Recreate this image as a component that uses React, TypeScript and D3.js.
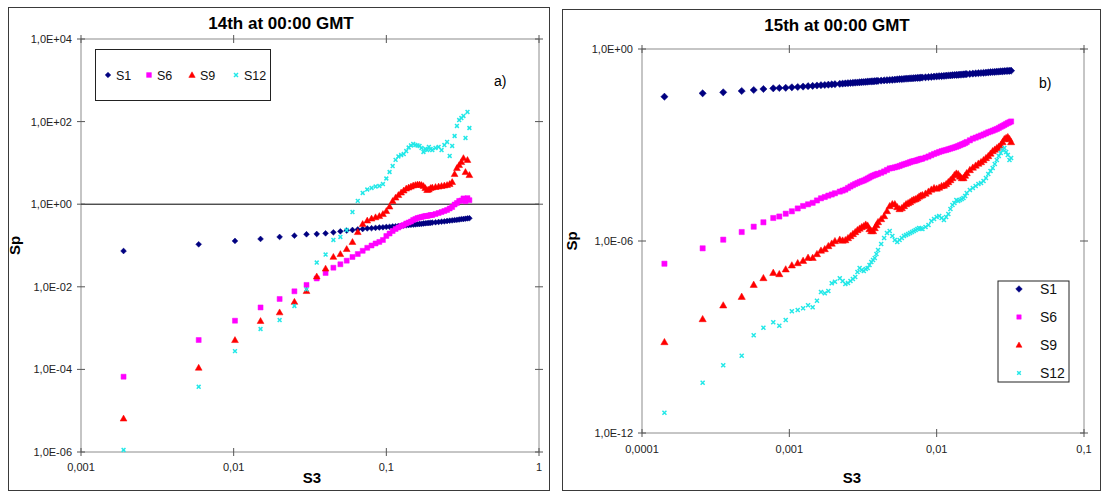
import React from "react";
import * as d3 from "d3";

// ---------- Panel a) : 14th at 00:00 GMT ----------
const leftS3 = [
  0.0019, 0.0059, 0.0102, 0.015, 0.02, 0.025, 0.03,
  0.035, 0.04, 0.045, 0.05, 0.055, 0.06, 0.065, 0.07, 0.075, 0.08,
  0.085, 0.09, 0.095, 0.1, 0.105, 0.11, 0.115, 0.12, 0.125, 0.13,
  0.135, 0.14, 0.145, 0.15, 0.155, 0.16, 0.165, 0.17, 0.175, 0.18,
  0.185, 0.19, 0.195, 0.2,
  0.21, 0.22, 0.23, 0.24, 0.25, 0.26, 0.27, 0.28, 0.29, 0.3, 0.31, 0.32, 0.33, 0.34, 0.35,
];
const leftS1 = [
  0.0736, 0.107, 0.129, 0.144, 0.161, 0.173, 0.187,
  0.19, 0.197, 0.208, 0.22, 0.23, 0.237, 0.245, 0.251, 0.259, 0.262,
  0.267, 0.273, 0.276, 0.281, 0.284, 0.289, 0.292, 0.297, 0.3, 0.303,
  0.308, 0.314, 0.317, 0.321, 0.324, 0.328, 0.332, 0.335, 0.341, 0.345,
  0.349, 0.351, 0.355, 0.359,
  0.365, 0.371, 0.377, 0.383, 0.392, 0.399, 0.405, 0.412, 0.419, 0.426, 0.433, 0.438, 0.445, 0.453, 0.458,
];
const leftS6 = [
  6.65e-5, 5.15e-4, 1.51e-3, 3.16e-3, 5.07e-3, 7.78e-3, 0.0111,
  0.0159, 0.0216, 0.029, 0.0351, 0.0429, 0.0527, 0.0622, 0.0744, 0.088, 0.1,
  0.112, 0.122, 0.136, 0.17, 0.195, 0.224, 0.251, 0.273, 0.297, 0.314,
  0.341, 0.36, 0.381, 0.415, 0.438, 0.463, 0.476, 0.49, 0.504, 0.518,
  0.518, 0.532, 0.547, 0.547,
  0.579, 0.612, 0.647, 0.685, 0.724, 0.787, 0.855, 0.983, 1.07, 1.2, 1.23, 1.38, 1.18, 1.4, 1.25,
];
const leftS9 = [
  6.47e-6, 1.1e-4, 5.15e-4, 1.49e-3, 2.41e-3, 4.34e-3, 7.91e-3,
  0.0178, 0.0277, 0.0532, 0.0622, 0.0823, 0.122, 0.212, 0.332, 0.403, 0.45,
  0.484, 0.518, 0.579, 0.685, 0.88, 1.2, 1.45, 1.67, 1.92, 2.15,
  2.4, 2.54, 2.68, 2.84, 2.92, 3.0, 3.0, 2.92, 2.76, 2.47,
  2.21, 2.27, 2.47, 2.54,
  2.61, 2.68, 2.76, 2.84, 2.92, 3.08, 3.45, 5.39, 7.52, 8.9, 10.5, 13.1, 6.02, 11.8, 5.09,
];
const leftS12 = [
  1.12e-6, 3.79e-5, 2.76e-4, 9.51e-4, 1.57e-3, 3.43e-3, 8.69e-3,
  0.0387, 0.0605, 0.136, 0.161, 0.237, 0.647, 1.2, 1.87, 2.27, 2.47,
  2.68, 2.76, 3.08, 4.19, 6.02, 8.41, 11.8, 14.3, 15.5, 16.4,
  19.4, 23.6, 26.4, 28.7, 27.1, 26.4, 25.7, 23.0, 18.4, 21.7,
  20.5, 24.3, 21.7, 20.5,
  23.0, 24.3, 20.5, 27.1, 32.1, 14.7, 25.7, 44.8, 78.3, 109, 122, 137, 40.1, 171, 70.0,
];
const leftXTicks = [0.001, 0.01, 0.1, 1];
const leftXLabels = ["0,001", "0,01", "0,1", "1"];
const leftYTicks = [1e4, 1e2, 1, 1e-2, 1e-4, 1e-6];
const leftYLabels = ["1,0E+04", "1,0E+02", "1,0E+00", "1,0E-02", "1,0E-04", "1,0E-06"];

// ---------- Panel b) : 15th at 00:00 GMT ----------
const rightS3 = [
  0.000142, 0.000258, 0.000356, 0.000475, 0.000573, 0.000667, 0.000778, 0.000855, 0.000945, 0.00104,
  0.00114, 0.00124, 0.00134, 0.00144, 0.00154, 0.00164, 0.00174, 0.00184, 0.00194, 0.00204,
  0.0022, 0.0023, 0.0024, 0.0025, 0.0026, 0.0027, 0.0028, 0.0029, 0.003, 0.0031,
  0.0032, 0.0033, 0.0034, 0.0035, 0.0036, 0.0037, 0.0038, 0.0039, 0.004, 0.0042,
  0.0044, 0.0046, 0.0048, 0.005, 0.0052, 0.0054, 0.0056, 0.0058, 0.006, 0.0062,
  0.0064, 0.0066, 0.0068, 0.007, 0.0072, 0.0074, 0.0076, 0.0078, 0.008, 0.0084,
  0.0088, 0.0092, 0.0096, 0.01, 0.0104, 0.0108, 0.0112, 0.0116, 0.012, 0.0124,
  0.0128, 0.0132, 0.0136, 0.014, 0.0144, 0.0148, 0.0152, 0.0156, 0.016, 0.0168,
  0.0176, 0.0184, 0.0192, 0.02, 0.0208, 0.0216, 0.0224, 0.0232, 0.024, 0.0248,
  0.0256, 0.0264, 0.0272, 0.028, 0.0288, 0.0296, 0.0304, 0.0312, 0.032,
];
const rightS1 = [
  0.0323, 0.0413, 0.0443, 0.0487, 0.0523, 0.0562, 0.0591, 0.0604, 0.0613, 0.0636,
  0.0649, 0.0668, 0.0688, 0.0703, 0.0723, 0.0739, 0.075, 0.0766, 0.0783, 0.0794,
  0.0818, 0.0829, 0.0841, 0.0854, 0.0866, 0.0879, 0.0891, 0.0898, 0.091, 0.0924,
  0.0931, 0.0944, 0.0951, 0.0965, 0.0972, 0.0979, 0.0993, 0.1, 0.1007, 0.1029,
  0.1044, 0.1059, 0.1075, 0.109, 0.1106, 0.1122, 0.1139, 0.1147, 0.1164, 0.118,
  0.1189, 0.1206, 0.1214, 0.1223, 0.1241, 0.125, 0.1259, 0.1277, 0.1286, 0.1305,
  0.1324, 0.1343, 0.1372, 0.1393, 0.1413, 0.1423, 0.1444, 0.1465, 0.1486, 0.1496,
  0.1518, 0.154, 0.1552, 0.1563, 0.1585, 0.1596, 0.1607, 0.1631, 0.1643, 0.1667,
  0.1703, 0.1728, 0.1754, 0.1778, 0.1805, 0.183, 0.1857, 0.1884, 0.1911, 0.1923,
  0.1953, 0.1966, 0.1995, 0.2009, 0.204, 0.2054, 0.207, 0.2083, 0.21,
];
const rightS6 = [
  1.95e-7, 5.9e-7, 1.1e-6, 1.91e-6, 2.8e-6, 3.84e-6, 5.24e-6, 5.83e-6, 7.13e-6, 8.48e-6,
  1.04e-5, 1.24e-5, 1.4e-5, 1.56e-5, 1.85e-5, 2.16e-5, 2.37e-5, 2.62e-5, 2.84e-5, 3.1e-5,
  3.5e-5, 3.76e-5, 4.04e-5, 4.53e-5, 5.05e-5, 5.54e-5, 6.04e-5, 6.49e-5, 6.98e-5, 7.39e-5,
  7.78e-5, 8.35e-5, 8.98e-5, 9.64e-5, 1.04e-4, 1.1e-4, 1.155e-4, 1.21e-4, 1.26e-4, 1.36e-4,
  1.49e-4, 1.66e-4, 1.85e-4, 1.91e-4, 2.0e-4, 2.1e-4, 2.21e-4, 2.36e-4, 2.49e-4, 2.61e-4,
  2.74e-4, 2.9e-4, 3.05e-4, 3.14e-4, 3.23e-4, 3.38e-4, 3.52e-4, 3.65e-4, 3.76e-4, 4.04e-4,
  4.37e-4, 4.8e-4, 5.24e-4, 5.62e-4, 6.04e-4, 6.4e-4, 6.73e-4, 6.98e-4, 7.34e-4, 7.72e-4,
  8.06e-4, 8.41e-4, 8.85e-4, 9.3e-4, 9.86e-4, 1.04e-3, 1.09e-3, 1.155e-3, 1.24e-3, 1.4e-3,
  1.58e-3, 1.7e-3, 1.84e-3, 1.98e-3, 2.13e-3, 2.3e-3, 2.49e-3, 2.64e-3, 2.8e-3, 2.99e-3,
  3.16e-3, 3.4e-3, 3.7e-3, 3.93e-3, 4.22e-3, 4.53e-3, 4.87e-3, 5.12e-3, 5.43e-3,
];
const rightS9 = [
  6.98e-10, 3.65e-9, 9.79e-9, 1.82e-8, 4.31e-8, 6.98e-8, 1.02e-7, 9.3e-8, 1.31e-7, 1.74e-7,
  2.05e-7, 2.42e-7, 3.01e-7, 3.0e-7, 3.93e-7, 5.05e-7, 5.62e-7, 6.98e-7, 8.35e-7, 1.0e-6,
  1.11e-6, 1.04e-6, 1.07e-6, 1.24e-6, 1.43e-6, 1.66e-6, 1.91e-6, 2.21e-6, 2.46e-6, 2.74e-6,
  2.94e-6, 3.28e-6, 3.05e-6, 2.37e-6, 2.05e-6, 2.05e-6, 2.55e-6, 3.16e-6, 3.93e-6, 4.87e-6,
  6.04e-6, 8.66e-6, 1.24e-5, 1.43e-5, 1.43e-5, 1.155e-5, 1.0e-5, 1.07e-5, 1.24e-5, 1.43e-5,
  1.54e-5, 1.66e-5, 1.85e-5, 1.98e-5, 2.05e-5, 2.21e-5, 2.46e-5, 2.64e-5, 2.74e-5, 3.05e-5,
  3.52e-5, 4.07e-5, 4.53e-5, 4.37e-5, 4.7e-5, 5.24e-5, 5.43e-5, 6.04e-5, 6.98e-5, 8.06e-5,
  9.3e-5, 1.155e-4, 1.29e-4, 1.24e-4, 1.04e-4, 9.3e-5, 9.3e-5, 1.11e-4, 1.33e-4, 1.66e-4,
  1.98e-4, 2.29e-4, 2.64e-4, 2.94e-4, 3.4e-4, 3.93e-4, 4.53e-4, 5.43e-4, 6.49e-4, 7.23e-4,
  8.06e-4, 8.98e-4, 1.0e-3, 1.24e-3, 1.54e-3, 1.66e-3, 1.78e-3, 1.54e-3, 1.24e-3,
];
const rightS12 = [
  4.31e-12, 3.73e-11, 1.31e-10, 2.61e-10, 1.13e-9, 1.95e-9, 2.88e-9, 2.25e-9, 3.4e-9, 6.36e-9,
  6.98e-9, 7.89e-9, 9.79e-9, 8.48e-9, 1.36e-8, 2.55e-8, 2.32e-8, 2.74e-8, 4.77e-8, 5.35e-8,
  6.83e-8, 5.62e-8, 4.53e-8, 4.87e-8, 5.62e-8, 6.49e-8, 7.5e-8, 1.07e-7, 1.43e-7, 1.24e-7,
  1.155e-7, 1.33e-7, 1.43e-7, 1.78e-7, 2.21e-7, 2.55e-7, 2.94e-7, 3.93e-7, 5.24e-7, 8.06e-7,
  1.24e-6, 1.78e-6, 2.05e-6, 1.43e-6, 1.07e-6, 9.3e-7, 1.07e-6, 1.24e-6, 1.43e-6, 1.54e-6,
  1.66e-6, 1.78e-6, 1.91e-6, 2.05e-6, 2.21e-6, 2.37e-6, 2.55e-6, 2.46e-6, 2.37e-6, 2.74e-6,
  3.16e-6, 4.22e-6, 4.87e-6, 5.62e-6, 6.04e-6, 5.24e-6, 4.53e-6, 5.62e-6, 6.98e-6, 1.0e-5,
  1.33e-5, 1.54e-5, 1.91e-5, 1.78e-5, 1.91e-5, 2.05e-5, 2.21e-5, 2.55e-5, 3.16e-5, 3.93e-5,
  4.53e-5, 5.24e-5, 6.04e-5, 6.49e-5, 7.5e-5, 9.3e-5, 1.24e-4, 1.54e-4, 1.91e-4, 2.55e-4,
  3.4e-4, 4.53e-4, 5.62e-4, 6.98e-4, 8.06e-4, 6.04e-4, 4.87e-4, 3.4e-4, 3.93e-4,
];
const rightXTicks = [0.0001, 0.001, 0.01, 0.1];
const rightXLabels = ["0,0001", "0,001", "0,01", "0,1"];
const rightYTicks = [1, 1e-6, 1e-12];
const rightYLabels = ["1,0E+00", "1,0E-06", "1,0E-12"];

const seriesNames = ["S1", "S6", "S9", "S12"];

// ---------- drawing helpers ----------
type Shape = "diamond" | "square" | "triangle" | "x";
const shapes: Shape[] = ["diamond", "square", "triangle", "x"];
const colors = ["#000080", "#FF00FF", "#FF0000", "#22E8E8"];
const FONT = "'Liberation Sans', Arial, Helvetica, sans-serif";

function markerPath(shape: Shape, r: number): string {
  const p = d3.path();
  if (shape === "diamond") {
    p.moveTo(0, -r); p.lineTo(r, 0); p.lineTo(0, r); p.lineTo(-r, 0); p.closePath();
  } else if (shape === "square") {
    p.rect(-r, -r, 2 * r, 2 * r);
  } else if (shape === "triangle") {
    p.moveTo(0, -r); p.lineTo(r, r * 0.75); p.lineTo(-r, r * 0.75); p.closePath();
  } else {
    p.moveTo(-r, -r); p.lineTo(r, r); p.moveTo(r, -r); p.lineTo(-r, r);
  }
  return p.toString();
}

function Marker({ shape, color, r, x, y }: { shape: Shape; color: string; r: number; x: number; y: number }) {
  const d = markerPath(shape, r);
  if (shape === "x") {
    return <path d={d} transform={`translate(${x},${y})`} fill="none" stroke={color} strokeWidth={1.5} />;
  }
  return <path d={d} transform={`translate(${x},${y})`} fill={color} stroke={color} strokeWidth={0.5} />;
}

type PanelProps = {
  frame: { x: number; y: number; w: number; h: number };
  plot: { x0: number; x1: number; y0: number; y1: number };
  title: string;
  titleX: number;
  titleY: number;
  tag: string;
  tagX: number;
  tagY: number;
  xs: number[];
  ys: number[][];
  xDomain: [number, number];
  yDomain: [number, number];
  xTicks: number[];
  xLabels: string[];
  yTicks: number[];
  yLabels: string[];
  xLabelY: number;
  xTitleX: number;
  yTitleX: number;
  radii: number[];
  refLineAt?: number;
  legend: React.ReactNode;
};

function Panel(p: PanelProps) {
  const x = d3.scaleLog().domain(p.xDomain).range([p.plot.x0, p.plot.x1]);
  const y = d3.scaleLog().domain(p.yDomain).range([p.plot.y1, p.plot.y0]);
  const midY = (p.plot.y0 + p.plot.y1) / 2;
  return (
    <g>
      <rect x={p.frame.x} y={p.frame.y} width={p.frame.w} height={p.frame.h} fill="#fff" stroke="#3a3a3a" strokeWidth={1} />
      <text x={p.titleX} y={p.titleY} textAnchor="middle" fontFamily={FONT} fontWeight="bold" fontSize={17}>
        {p.title}
      </text>
      <rect
        x={p.plot.x0}
        y={p.plot.y0}
        width={p.plot.x1 - p.plot.x0}
        height={p.plot.y1 - p.plot.y0}
        fill="#fff"
        stroke="#8c8c8c"
        strokeWidth={1}
      />
      {p.refLineAt !== undefined && (
        <line x1={p.plot.x0} x2={p.plot.x1} y1={y(p.refLineAt)} y2={y(p.refLineAt)} stroke="#000" strokeWidth={1} />
      )}
      {p.yTicks.map((t, i) => (
        <g key={"yt" + i}>
          <line x1={p.plot.x0 - 4} x2={p.plot.x0 + 4} y1={y(t)} y2={y(t)} stroke="#555" />
          <line x1={p.plot.x1 - 4} x2={p.plot.x1 + 4} y1={y(t)} y2={y(t)} stroke="#555" />
          <text x={p.plot.x0 - 9} y={y(t) + 4} textAnchor="end" fontFamily={FONT} fontSize={11} fill="#222">
            {p.yLabels[i]}
          </text>
        </g>
      ))}
      {p.xTicks.map((t, i) => (
        <g key={"xt" + i}>
          <line x1={x(t)} x2={x(t)} y1={p.plot.y1 - 4} y2={p.plot.y1 + 4} stroke="#555" />
          <line x1={x(t)} x2={x(t)} y1={p.plot.y0 - 4} y2={p.plot.y0 + 4} stroke="#555" />
          <text x={x(t)} y={p.xLabelY} textAnchor="middle" fontFamily={FONT} fontSize={11} fill="#222">
            {p.xLabels[i]}
          </text>
        </g>
      ))}
      <text x={p.xTitleX} y={p.frame.y + p.frame.h - 8} textAnchor="middle" fontFamily={FONT} fontWeight="bold" fontSize={15}>
        S3
      </text>
      <text
        transform={`translate(${p.yTitleX},${midY}) rotate(-90)`}
        textAnchor="middle"
        fontFamily={FONT}
        fontWeight="bold"
        fontSize={15}
      >
        Sp
      </text>
      <text x={p.tagX} y={p.tagY} fontFamily={FONT} fontSize={14}>
        {p.tag}
      </text>
      {p.ys.map((vals, si) => (
        <g key={"s" + si}>
          {vals.map((v, i) => (
            <Marker key={i} shape={shapes[si]} color={colors[si]} r={p.radii[si]} x={x(p.xs[i])} y={y(v)} />
          ))}
        </g>
      ))}
      {p.legend}
    </g>
  );
}

export default function App() {
  const leftLegend = (
    <g>
      <rect x={95.5} y={49.5} width={175} height={51} fill="#fff" stroke="#222" strokeWidth={1} />
      {seriesNames.map((n, i) => {
        const mx = [108, 149, 192, 236][i];
        return (
          <g key={n}>
            <Marker shape={shapes[i]} color={colors[i]} r={[2.8, 2.4, 3.2, 2][i]} x={mx} y={75} />
            <text x={mx + 8} y={79.5} fontFamily={FONT} fontSize={12.5} fill="#111">
              {n}
            </text>
          </g>
        );
      })}
    </g>
  );
  const rightLegend = (
    <g>
      <rect x={998} y={281} width={71} height={101} fill="#fff" stroke="#222" strokeWidth={1} />
      {seriesNames.map((n, i) => {
        const my = [289, 317, 345, 373][i];
        return (
          <g key={n}>
            <Marker shape={shapes[i]} color={colors[i]} r={[3.3, 2.2, 3, 1.8][i]} x={1019} y={my} />
            <text x={1040} y={my + 5} fontFamily={FONT} fontSize={14} fill="#111">
              {n}
            </text>
          </g>
        );
      })}
    </g>
  );

  return (
    <svg
      width={1105}
      height={492}
      style={{ position: "absolute", left: 0, top: 0, background: "#fff" }}
    >
      <Panel
        frame={{ x: 8.5, y: 7.5, w: 541, h: 483 }}
        plot={{ x0: 81, x1: 539, y0: 39, y1: 452 }}
        title="14th at 00:00 GMT"
        titleX={281}
        titleY={29}
        tag="a)"
        tagX={494}
        tagY={86}
        xs={leftS3}
        ys={[leftS1, leftS6, leftS9, leftS12]}
        xDomain={[0.001, 1]}
        yDomain={[1e-6, 1e4]}
        xTicks={leftXTicks}
        xLabels={leftXLabels}
        yTicks={leftYTicks}
        yLabels={leftYLabels}
        xLabelY={471}
        xTitleX={312}
        yTitleX={20}
        radii={[2.9, 2.5, 3.4, 1.9]}
        refLineAt={1}
        legend={leftLegend}
      />
      <Panel
        frame={{ x: 562.5, y: 9.5, w: 538, h: 481 }}
        plot={{ x0: 642, x1: 1084, y0: 49, y1: 433 }}
        title="15th at 00:00 GMT"
        titleX={837}
        titleY={31}
        tag="b)"
        tagX={1039}
        tagY={88}
        xs={rightS3}
        ys={[rightS1, rightS6, rightS9, rightS12]}
        xDomain={[0.0001, 0.1]}
        yDomain={[1e-12, 1]}
        xTicks={rightXTicks}
        xLabels={rightXLabels}
        yTicks={rightYTicks}
        yLabels={rightYLabels}
        xLabelY={453}
        xTitleX={852}
        yTitleX={577}
        radii={[3.6, 2.6, 3.6, 2]}
        legend={rightLegend}
      />
    </svg>
  );
}
